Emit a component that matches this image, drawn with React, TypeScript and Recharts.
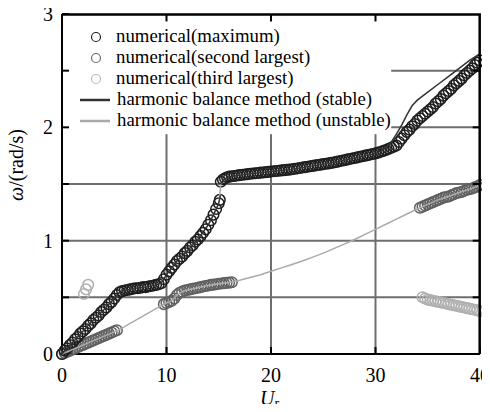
import {
  ScatterChart,
  Scatter,
  XAxis,
  YAxis,
  ReferenceLine,
  Legend,
  Label,
} from "recharts";

const SERIF = '"Liberation Serif", "Times New Roman", serif';
const GRID = "#6e6e6e";

// numerical results, [U_r, omega]
const numMaximum: [number, number][] = [
  [0, 0], [0.25, 0.03], [0.5, 0.05], [0.75, 0.08], [1, 0.1], [1.25, 0.13], [1.5, 0.15], [1.75, 0.18],
  [2, 0.2], [2.25, 0.22], [2.5, 0.25], [2.75, 0.27], [3, 0.3], [3.25, 0.32], [3.5, 0.34], [3.75, 0.37],
  [4, 0.39], [4.25, 0.41], [4.5, 0.44], [4.75, 0.46], [5, 0.49], [5.25, 0.52], [5.5, 0.545],
  [5.75, 0.555], [6, 0.56], [6.25, 0.565], [6.5, 0.57], [6.75, 0.575], [7, 0.58], [7.25, 0.58],
  [7.5, 0.585], [7.75, 0.59], [8, 0.59], [8.25, 0.595], [8.5, 0.6], [8.75, 0.605], [9, 0.61],
  [9.25, 0.615], [9.5, 0.625], [9.75, 0.66],
  [10, 0.7], [10.25, 0.73], [10.5, 0.76], [10.75, 0.79], [11, 0.82], [11.25, 0.84], [11.5, 0.86],
  [11.75, 0.89], [12, 0.91], [12.25, 0.94], [12.5, 0.96], [12.75, 0.99], [13, 1.01], [13.25, 1.04],
  [13.5, 1.07], [13.75, 1.1], [14, 1.14], [14.25, 1.18], [14.5, 1.23], [14.75, 1.28], [15, 1.33], [15.1, 1.36],
  [15.2, 1.52], [15.4, 1.54], [15.6, 1.55], [15.8, 1.56], [16, 1.565], [16.25, 1.568], [16.5, 1.571],
  [16.75, 1.575], [17, 1.578], [17.25, 1.581], [17.5, 1.584], [17.75, 1.587], [18, 1.59], [18.25, 1.592],
  [18.5, 1.595], [18.75, 1.597], [19, 1.6], [19.25, 1.602], [19.5, 1.605], [19.75, 1.607], [20, 1.61],
  [20.25, 1.612], [20.5, 1.615], [20.75, 1.617], [21, 1.62], [21.25, 1.622], [21.5, 1.625], [21.75, 1.627],
  [22, 1.63], [22.25, 1.634], [22.5, 1.637], [22.75, 1.641], [23, 1.645], [23.25, 1.649], [23.5, 1.652],
  [23.75, 1.656], [24, 1.66], [24.25, 1.664], [24.5, 1.667], [24.75, 1.671], [25, 1.675], [25.25, 1.679],
  [25.5, 1.682], [25.75, 1.686], [26, 1.69], [26.25, 1.695], [26.5, 1.7], [26.75, 1.705], [27, 1.71],
  [27.25, 1.715], [27.5, 1.72], [27.75, 1.725], [28, 1.73], [28.25, 1.735], [28.5, 1.74], [28.75, 1.745],
  [29, 1.75], [29.25, 1.755], [29.5, 1.76], [29.75, 1.765], [30, 1.77], [30.25, 1.777], [30.5, 1.785],
  [30.75, 1.792], [31, 1.8], [31.25, 1.81], [31.5, 1.82], [31.75, 1.83], [32, 1.84],
  [32.25, 1.87], [32.5, 1.9], [32.75, 1.93], [33, 1.96], [33.25, 1.98], [33.5, 2.01], [33.75, 2.03],
  [34, 2.06], [34.25, 2.08], [34.5, 2.1], [34.75, 2.12], [35, 2.14], [35.25, 2.16], [35.5, 2.18],
  [35.75, 2.21], [36, 2.23], [36.25, 2.25], [36.5, 2.28], [36.75, 2.3], [37, 2.32], [37.25, 2.34],
  [37.5, 2.37], [37.75, 2.39], [38, 2.41], [38.25, 2.43], [38.5, 2.46], [38.75, 2.48], [39, 2.5],
  [39.25, 2.52], [39.5, 2.55], [39.75, 2.57], [40, 2.59],
];

const numSecond: [number, number][] = [
  [0, 0], [0.25, 0.01], [0.5, 0.02], [0.75, 0.03], [1, 0.04], [1.25, 0.05], [1.5, 0.06], [1.75, 0.07],
  [2, 0.08], [2.25, 0.09], [2.5, 0.1], [2.75, 0.11], [3, 0.12], [3.25, 0.13], [3.5, 0.14], [3.75, 0.15],
  [4, 0.16], [4.25, 0.17], [4.5, 0.18], [4.75, 0.19], [5, 0.2], [5.25, 0.21],
  [9.75, 0.44], [10, 0.45], [10.25, 0.46], [10.5, 0.47], [10.75, 0.49], [11, 0.52], [11.25, 0.54],
  [11.5, 0.55], [11.75, 0.56], [12, 0.565], [12.25, 0.57], [12.5, 0.575], [12.75, 0.58], [13, 0.585],
  [13.25, 0.59], [13.5, 0.595], [13.75, 0.6], [14, 0.605], [14.25, 0.61], [14.5, 0.612], [14.75, 0.615],
  [15, 0.62], [15.25, 0.622], [15.5, 0.625], [15.75, 0.628], [16, 0.63], [16.25, 0.633],
  [34.25, 1.29], [34.5, 1.3], [34.75, 1.31], [35, 1.32], [35.25, 1.33], [35.5, 1.34], [35.75, 1.35],
  [36, 1.36], [36.25, 1.37], [36.5, 1.38], [36.75, 1.385], [37, 1.39], [37.25, 1.4], [37.5, 1.41],
  [37.75, 1.42], [38, 1.425], [38.25, 1.43], [38.5, 1.44], [38.75, 1.45], [39, 1.455], [39.25, 1.46],
  [39.5, 1.47], [39.75, 1.48], [40, 1.49],
];

const numThird: [number, number][] = [
  [2.1, 0.53], [2.3, 0.57], [2.5, 0.61],
  [34.5, 0.5], [34.75, 0.49], [35, 0.48], [35.25, 0.475], [35.5, 0.47], [35.75, 0.465], [36, 0.46],
  [36.25, 0.455], [36.5, 0.45], [36.75, 0.445], [37, 0.44], [37.25, 0.435], [37.5, 0.43], [37.75, 0.425],
  [38, 0.42], [38.25, 0.415], [38.5, 0.41], [38.75, 0.405], [39, 0.4], [39.25, 0.395], [39.5, 0.39],
  [39.75, 0.385], [40, 0.38],
];

// harmonic balance method
const hbStableLow: [number, number][] = [
  [0, 0], [1, 0.1], [2, 0.2], [3, 0.3], [4, 0.39], [5, 0.49], [5.5, 0.545], [6, 0.56], [7, 0.58],
  [8, 0.59], [9, 0.61], [9.5, 0.625], [9.8, 0.67], [10, 0.7], [11, 0.82], [12, 0.91], [13, 1.01],
  [14, 1.14], [14.5, 1.23], [15, 1.33], [15.15, 1.4],
];
const hbStableHigh: [number, number][] = [
  [15.15, 1.5], [15.5, 1.54], [16, 1.565], [18, 1.59], [20, 1.61], [22, 1.63], [24, 1.66], [26, 1.69],
  [28, 1.73], [30, 1.77], [30.5, 1.79], [31, 1.82], [31.5, 1.87], [32, 1.94], [32.5, 2.02], [33, 2.11],
  [33.5, 2.19], [34, 2.24], [35, 2.31], [36, 2.38], [37, 2.45], [38, 2.52], [39, 2.59], [40, 2.65],
];
const hbUnstable: [number, number][] = [
  [0, 0], [5.4, 0.21], [9.75, 0.44], [10, 0.45], [10.5, 0.47], [11, 0.52], [11.5, 0.55], [12, 0.565],
  [13, 0.585], [14, 0.605], [15, 0.62], [16, 0.63], [17, 0.65], [18, 0.675], [19, 0.7], [20, 0.73],
  [21, 0.76], [22, 0.79], [23, 0.82], [24, 0.855], [25, 0.89], [26, 0.93], [27, 0.97], [28, 1.01],
  [29, 1.055], [30, 1.1], [31, 1.145], [32, 1.19], [33, 1.235], [34, 1.28], [35, 1.32], [36, 1.36],
  [37, 1.39], [38, 1.425], [39, 1.455], [40, 1.49],
];
const hbUnstableLink: [number, number][] = [[15.05, 1.37], [15.15, 1.45], [15.2, 1.52]];

const X_MIN = 0;
const X_MAX = 40;
const Y_MIN = 0;
const Y_MAX = 3;
const xTicks = [0, 10, 20, 30, 40];
const xTicksTop = [10, 20, 30];
const yTicks = [0, 0.5, 1, 1.5, 2, 2.5, 3];
const yTicksRight = [0.5, 1, 1.5, 2, 2.5];
// box edge drawn a hair inside the domain so it is not dropped at the limit
const EDGE_X = 39.97;
const EDGE_Y = 2.996;

const legendRows = [
  { kind: "circle", color: "#222", text: "numerical(maximum)" },
  { kind: "circle", color: "#666", text: "numerical(second largest)" },
  { kind: "circle", color: "#bbb", text: "numerical(third largest)" },
  { kind: "line", color: "#333", text: "harmonic balance method (stable)" },
  { kind: "line", color: "#aaa", text: "harmonic balance method (unstable)" },
];

const toPts = (arr: [number, number][]) => arr.map(([x, y]) => ({ x, y }));

// top and right edges of the box, and their inward tick marks
const framePts = [{ x: X_MIN, y: EDGE_Y }, { x: EDGE_X, y: EDGE_Y }, { x: EDGE_X, y: Y_MIN }];
const topTickPts = xTicksTop.map((x) => ({ x, y: EDGE_Y }));
const rightTickPts = yTicksRight.map((y) => ({ x: EDGE_X, y }));

const ring = (color: string) => (props: any) =>
  <circle cx={props.cx} cy={props.cy} r={5.3} fill="none" stroke={color} strokeWidth={1.5} />;

const noShape = () => <g />;
const downTick = (p: any) => <line x1={p.cx} x2={p.cx} y1={p.cy} y2={p.cy + 7} stroke="#000" strokeWidth={2} />;
const leftTick = (p: any) => <line x1={p.cx} x2={p.cx - 7} y1={p.cy} y2={p.cy} stroke="#000" strokeWidth={2} />;

const LegendBox = () => (
  <svg width={340} height={112} style={{ display: "block" }}>
    {legendRows.map((r, i) => {
      const cy = 15 + i * 21;
      return (
        <g key={r.text}>
          {r.kind === "circle" ? (
            <circle cx={24} cy={cy} r={4.5} fill="none" stroke={r.color} strokeWidth={1.2} />
          ) : (
            <line x1={8} x2={38} y1={cy} y2={cy} stroke={r.color} strokeWidth={2.5} />
          )}
          <text x={r.kind === "circle" ? 44 : 45} y={cy + 5} fontFamily={SERIF} fontSize={18.8} fill="#000">
            {r.text}
          </text>
        </g>
      );
    })}
  </svg>
);

const axisLine = { stroke: "#000", strokeWidth: 2 };
const tickStyle = { fill: "#000", fontSize: 20, fontFamily: SERIF };

export default function App() {
  return (
    <div style={{ margin: -8, width: 490, height: 412 }}>
      <ScatterChart width={490} height={412} margin={{ top: 14, right: 10, bottom: 0, left: 0 }}>
        <XAxis
          type="number"
          dataKey="x"
          domain={[X_MIN, X_MAX]}
          ticks={xTicks}
          height={58}
          tickSize={-7}
          tickMargin={21}
          axisLine={axisLine}
          tickLine={axisLine}
          tick={tickStyle}
        >
          <Label
            content={() => (
              <text x={260} y={405} fontFamily={SERIF} fill="#000">
                <tspan fontStyle="italic" fontSize={20}>U</tspan>
                <tspan fontSize={14} dy={3}>r</tspan>
              </text>
            )}
          />
        </XAxis>
        <YAxis
          type="number"
          dataKey="y"
          domain={[Y_MIN, Y_MAX]}
          ticks={yTicks}
          width={62}
          tickSize={-7}
          tickMargin={16}
          tickFormatter={(v: number) => (Number.isInteger(v) ? String(v) : "")}
          axisLine={axisLine}
          tickLine={axisLine}
          tick={tickStyle}
        >
          <Label
            content={() => (
              <text
                x={23}
                y={165}
                transform="rotate(-90 23 165)"
                textAnchor="middle"
                fontFamily={SERIF}
                fontSize={20}
                fill="#000"
              >
                <tspan fontStyle="italic">ω</tspan>/(rad/s)
              </text>
            )}
          />
        </YAxis>

        {/* grid, partly hidden behind the legend */}
        {[10, 20, 30].map((x) => (
          <ReferenceLine key={`v${x}`} segment={[{ x, y: 0 }, { x, y: 1.94 }]} stroke={GRID} strokeWidth={2} />
        ))}
        {[0.5, 1, 1.5].map((y) => (
          <ReferenceLine key={`h${y}`} segment={[{ x: X_MIN, y }, { x: X_MAX, y }]} stroke={GRID} strokeWidth={2} />
        ))}
        {[2, 2.5].map((y) => (
          <ReferenceLine key={`h${y}`} segment={[{ x: 31.5, y }, { x: X_MAX, y }]} stroke={GRID} strokeWidth={2} />
        ))}

        <Scatter data={toPts(numThird)} shape={ring("#b0b0b0")} isAnimationActive={false} />
        <Scatter data={toPts(numSecond)} shape={ring("#606060")} isAnimationActive={false} />
        <Scatter data={toPts(numMaximum)} shape={ring("#1e1e1e")} isAnimationActive={false} />

        <Scatter data={toPts(hbUnstable)} line={{ stroke: "#aaa", strokeWidth: 1.5 }} shape={noShape} isAnimationActive={false} />
        <Scatter data={toPts(hbUnstableLink)} line={{ stroke: "#aaa", strokeWidth: 1.5 }} shape={noShape} isAnimationActive={false} />
        <Scatter data={toPts(hbStableLow)} line={{ stroke: "#333", strokeWidth: 1.5 }} shape={noShape} isAnimationActive={false} />
        <Scatter data={toPts(hbStableHigh)} line={{ stroke: "#333", strokeWidth: 1.5 }} shape={noShape} isAnimationActive={false} />

        <Scatter data={framePts} line={{ stroke: "#000", strokeWidth: 2.5 }} shape={noShape} isAnimationActive={false} />
        <Scatter data={topTickPts} shape={downTick} isAnimationActive={false} />
        <Scatter data={rightTickPts} shape={leftTick} isAnimationActive={false} />

        <Legend
          layout="vertical"
          align="center"
          verticalAlign="middle"
          content={() => <LegendBox />}
          wrapperStyle={{ left: 72, top: 22, width: 340, height: 112 }}
        />
      </ScatterChart>
    </div>
  );
}
